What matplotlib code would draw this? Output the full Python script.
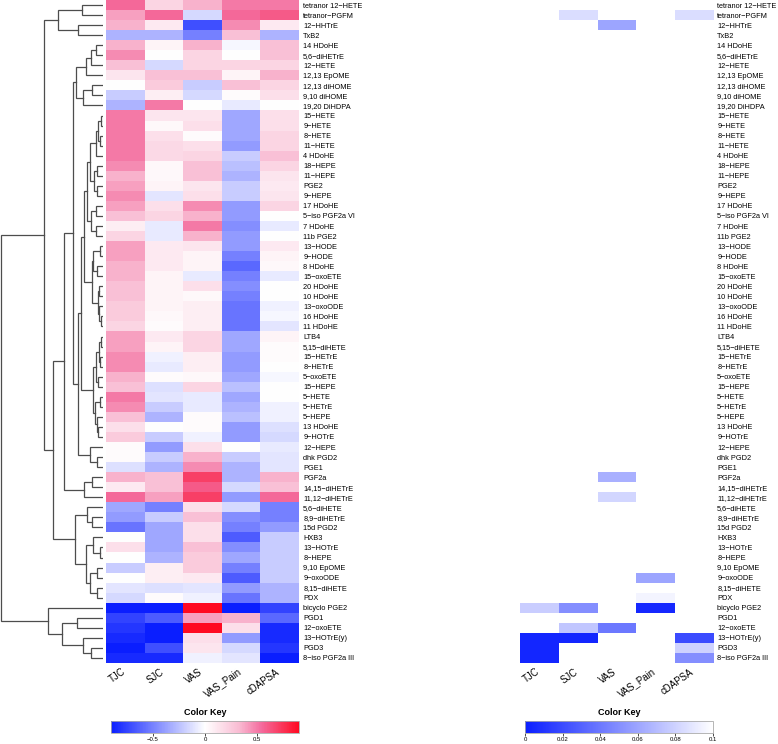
import numpy as np
import matplotlib
import matplotlib.pyplot as plt
from matplotlib.colors import LinearSegmentedColormap, Normalize
from matplotlib.cm import ScalarMappable

plt.rcParams['font.family'] = ['Liberation Sans', 'DejaVu Sans']

W, H = 778, 744

metabolites = [
    "tetranor 12\u2212HETE", "tetranor\u2212PGFM", "12\u2212HHTrE", "TxB2", "14 HDoHE",
    "5,6\u2212diHETrE", "12\u2212HETE", "12,13 EpOME", "12,13 diHOME", "9,10 diHOME",
    "19,20 DiHDPA", "15\u2212HETE", "9\u2212HETE", "8\u2212HETE", "11\u2212HETE",
    "4 HDoHE", "18\u2212HEPE", "11\u2212HEPE", "PGE2", "9\u2212HEPE",
    "17 HDoHE", "5\u2212iso PGF2a VI", "7 HDoHE", "11b PGE2", "13\u2212HODE",
    "9\u2212HODE", "8 HDoHE", "15\u2212oxoETE", "20 HDoHE", "10 HDoHE",
    "13\u2212oxoODE", "16 HDoHE", "11 HDoHE", "LTB4", "5,15\u2212diHETE",
    "15\u2212HETrE", "8\u2212HETrE", "5\u2212oxoETE", "15\u2212HEPE", "5\u2212HETE",
    "5\u2212HETrE", "5\u2212HEPE", "13 HDoHE", "9\u2212HOTrE", "12\u2212HEPE",
    "dhk PGD2", "PGE1", "PGF2a", "14,15\u2212diHETrE", "11,12\u2212diHETrE",
    "5,6\u2212diHETE", "8,9\u2212diHETrE", "15d PGD2", "HXB3", "13\u2212HOTrE",
    "8\u2212HEPE", "9,10 EpOME", "9\u2212oxoODE", "8,15\u2212diHETE", "PDX",
    "bicyclo PGE2", "PGD1", "12\u2212oxoETE", "13\u2212HOTrE(y)", "PGD3",
    "8\u2212iso PGF2a III",
]
traits = ["TJC", "SJC", "VAS", "VAS_Pain", "cDAPSA"]

# correlation coefficients, one list per clinical measure (row order as above)
tjc = [0.55, 0.40, 0.35, -0.30, 0.35, 0.45, 0.30, 0.12, 0.00, -0.20,
       -0.30, 0.50, 0.50, 0.50, 0.50, 0.50, 0.45, 0.35, 0.40, 0.45,
       0.40, 0.30, 0.08, 0.20, 0.40, 0.40, 0.35, 0.35, 0.30, 0.30,
       0.25, 0.25, 0.20, 0.40, 0.40, 0.45, 0.45, 0.35, 0.30, 0.50,
       0.45, 0.30, 0.15, 0.25, 0.02, 0.02, -0.12, 0.35, 0.10, 0.55,
       -0.35, -0.40, -0.55, 0.00, 0.15, 0.00, -0.20, 0.00, -0.10, -0.15,
       -0.90, -0.75, -0.80, -0.85, -0.90, -0.85]
sjc = [0.20, 0.55, 0.10, -0.30, 0.05, 0.00, -0.15, 0.30, 0.25, 0.08,
       0.50, 0.12, 0.03, 0.15, 0.18, 0.18, 0.03, 0.03, 0.05, -0.10,
       0.15, 0.20, -0.08, -0.08, 0.10, 0.10, 0.10, 0.05, 0.05, 0.05,
       0.05, 0.03, 0.02, 0.10, 0.05, -0.05, -0.08, 0.02, -0.12, -0.10,
       -0.20, -0.30, 0.00, -0.20, -0.40, -0.20, -0.30, 0.30, 0.30, 0.40,
       -0.50, -0.20, -0.35, -0.35, -0.35, -0.30, 0.08, 0.08, -0.12, 0.02,
       -0.90, -0.65, -0.90, -0.90, -0.70, -0.85]
vas = [0.35, -0.15, -0.70, -0.50, 0.35, 0.20, 0.20, 0.30, -0.20, -0.15,
       0.00, 0.12, 0.15, 0.02, 0.15, 0.20, 0.30, 0.30, 0.12, 0.15,
       0.45, 0.35, 0.50, 0.35, 0.12, 0.05, 0.05, -0.08, 0.15, 0.03,
       0.08, 0.08, 0.08, 0.20, 0.20, 0.08, 0.08, 0.03, 0.20, -0.08,
       -0.08, 0.02, 0.02, -0.05, 0.15, 0.35, 0.45, 0.70, 0.60, 0.70,
       0.15, 0.30, 0.15, 0.15, 0.30, 0.25, 0.25, 0.10, -0.10, -0.05,
       0.90, 0.40, 0.90, 0.15, 0.12, -0.05]
vas_pain = [0.50, 0.55, 0.45, 0.30, -0.03, 0.00, 0.20, 0.05, 0.30, 0.02,
            -0.08, -0.35, -0.35, -0.35, -0.40, -0.20, -0.25, -0.30, -0.20, -0.20,
            -0.40, -0.40, -0.45, -0.40, -0.40, -0.50, -0.60, -0.50, -0.45, -0.50,
            -0.55, -0.55, -0.55, -0.35, -0.35, -0.40, -0.40, -0.35, -0.25, -0.35,
            -0.30, -0.25, -0.40, -0.40, 0.00, -0.20, -0.30, -0.30, -0.15, -0.40,
            -0.15, -0.45, -0.50, -0.65, -0.45, -0.35, -0.50, -0.65, -0.40, -0.55,
            -0.90, 0.35, 0.15, -0.40, -0.15, -0.10]
cdapsa = [0.50, 0.60, 0.10, -0.30, 0.30, 0.30, 0.20, 0.35, 0.20, 0.15,
          0.00, 0.15, 0.15, 0.20, 0.20, 0.30, 0.20, 0.12, 0.10, 0.12,
          0.20, 0.00, -0.08, 0.00, 0.10, 0.05, 0.03, -0.08, 0.00, 0.00,
          -0.05, -0.03, -0.10, 0.05, 0.02, 0.02, 0.00, -0.03, 0.00, 0.00,
          -0.05, -0.05, -0.12, -0.15, -0.08, -0.10, -0.10, 0.35, 0.30, 0.55,
          -0.50, -0.50, -0.40, -0.20, -0.20, -0.20, -0.20, -0.20, -0.30, -0.30,
          -0.75, -0.60, -0.85, -0.85, -0.80, -0.90]

# p-values below 0.1 (everything else is drawn blank)
pvalues = {
    ("tetranor\u2212PGFM", "SJC"): 0.085,
    ("tetranor\u2212PGFM", "cDAPSA"): 0.085,
    ("12\u2212HHTrE", "VAS"): 0.060,
    ("PGF2a", "VAS"): 0.065,
    ("11,12\u2212diHETrE", "VAS"): 0.082,
    ("9\u2212oxoODE", "VAS_Pain"): 0.060,
    ("PDX", "VAS_Pain"): 0.095,
    ("bicyclo PGE2", "TJC"): 0.078,
    ("bicyclo PGE2", "SJC"): 0.050,
    ("bicyclo PGE2", "VAS_Pain"): 0.005,
    ("12\u2212oxoETE", "SJC"): 0.075,
    ("12\u2212oxoETE", "VAS"): 0.040,
    ("13\u2212HOTrE(y)", "TJC"): 0.004,
    ("13\u2212HOTrE(y)", "SJC"): 0.004,
    ("13\u2212HOTrE(y)", "cDAPSA"): 0.020,
    ("PGD3", "TJC"): 0.004,
    ("PGD3", "cDAPSA"): 0.080,
    ("8\u2212iso PGF2a III", "TJC"): 0.004,
    ("8\u2212iso PGF2a III", "cDAPSA"): 0.050,
}

# row dendrogram: (left, right, height); leaves are row numbers counted from 1
G1 = ((1, 2, 21), (3, 4, 25), 45)
G7 = ((((5, 6, 7), 7, 12), 8, 17), ((9, 10, 11), 11, 20), 27)
GA = ((((12, 13, 2), (14, 15, 3), 5), 16, 7), ((17, 18, 6), (19, 20, 6), 9), 13)
GB = ((21, 22, 7), (23, 24, 7), 12)
GC = (((25, 26, 3), (27, 28, 6), 10), ((29, 30, 4), (31, (32, 33, 2), 3.5), 5), 11)
GD = ((((34, 35, 1.5), (36, 37, 2.5), 3.5), (38, 39, 5), 7),
      ((40, 41, 3), (42, (43, 44, 5), 6), 8), 10)
G8 = ((((GA, GB, 16), GC, 19), GD, 22), (45, (46, 47, 6), 13), 25)
G3 = ((G7, G8, 30), ((48, 49, 11), 50, 19), 39)
G4 = ((51, (52, 53, 11), 16), ((54, (55, 56, 3), 10), ((57, 58, 6), (59, 60, 6), 13), 17), 28)
BOT = (61, ((62, 63, 26), (64, (65, 66, 12), 20), 41), 55)
tree = ((G1, (G3, G4, 50), 59), BOT, 102)


def box(x0, y0, x1, y1):
    return [x0 / W, 1 - y1 / H, (x1 - x0) / W, (y1 - y0) / H]


def draw_tree(ax, node):
    if not isinstance(node, tuple):
        return node - 0.5, 0.0
    ya, ha = draw_tree(ax, node[0])
    yb, hb = draw_tree(ax, node[1])
    h = node[2]
    ax.plot([ha, h, h, hb], [ya, ya, yb, yb], color='#4d4d4d', lw=0.9,
            solid_joinstyle='miter')
    return (ya + yb) / 2, h


n = len(metabolites)
corr = np.array([tjc, sjc, vas, vas_pain, cdapsa]).T
pmat = np.full((n, len(traits)), np.nan)
for (m, t), p in pvalues.items():
    pmat[metabolites.index(m), traits.index(t)] = p

cmap_r = LinearSegmentedColormap.from_list(
    'bwr_key', [(0.0, '#0a1eff'), (0.5, '#ffffff'), (0.68, '#f9bcd3'),
                (0.80, '#f46c9e'), (1.0, '#ff0a22')])
cmap_p = LinearSegmentedColormap.from_list('p_key', ['#0a1eff', '#ffffff'])
cmap_p.set_bad('white')
norm_r = Normalize(-0.9, 0.9)
norm_p = Normalize(0, 0.1)

fig = plt.figure(figsize=(W / 100, H / 100), dpi=100)

ax_d = fig.add_axes(box(0, 0, 103, 663))
draw_tree(ax_d, tree)
ax_d.set_xlim(103, 0)
ax_d.set_ylim(n, 0)
ax_d.axis('off')

for (x0, x1), data, cmap, norm in [((106, 299), corr, cmap_r, norm_r),
                                   ((520, 713), np.ma.masked_invalid(pmat), cmap_p, norm_p)]:
    ax = fig.add_axes(box(x0, 0, x1, 663))
    ax.imshow(data, cmap=cmap, norm=norm, aspect='auto', interpolation='nearest',
              extent=(0, len(traits), n, 0))
    ax.set_xlim(0, len(traits))
    ax.set_ylim(n, 0)
    for s in ax.spines.values():
        s.set_visible(False)
    ax.yaxis.tick_right()
    ax.set_yticks(np.arange(n) + 0.5)
    ax.set_yticklabels(metabolites, fontsize=5.3)
    ax.tick_params(axis='y', length=0, pad=3)
    ax.set_xticks([])
    for i, t in enumerate(traits):
        ax.text(i + 0.55, n + 0.35, t, rotation=35, ha='right', va='top',
                fontsize=6.9)

for (x0, x1), cmap, norm, ticks, labels in [
        ((111, 299), cmap_r, norm_r, [-0.5, 0, 0.5], ['\u22120.5', '0', '0.5']),
        ((525, 713), cmap_p, norm_p, [0, 0.02, 0.04, 0.06, 0.08, 0.1],
         ['0', '0.02', '0.04', '0.06', '0.08', '0.1'])]:
    cax = fig.add_axes(box(x0, 721, x1, 733))
    cb = fig.colorbar(ScalarMappable(norm=norm, cmap=cmap), cax=cax,
                      orientation='horizontal')
    cb.set_ticks(ticks)
    cb.set_ticklabels(labels)
    cb.outline.set_edgecolor('#aaaaaa')
    cb.outline.set_linewidth(0.6)
    cax.tick_params(labelsize=4.3, length=2, width=0.5, pad=1)
    cax.set_title('Color Key', fontsize=6.5, fontweight='bold', pad=4)

fig.savefig('out.png', dpi=100)
